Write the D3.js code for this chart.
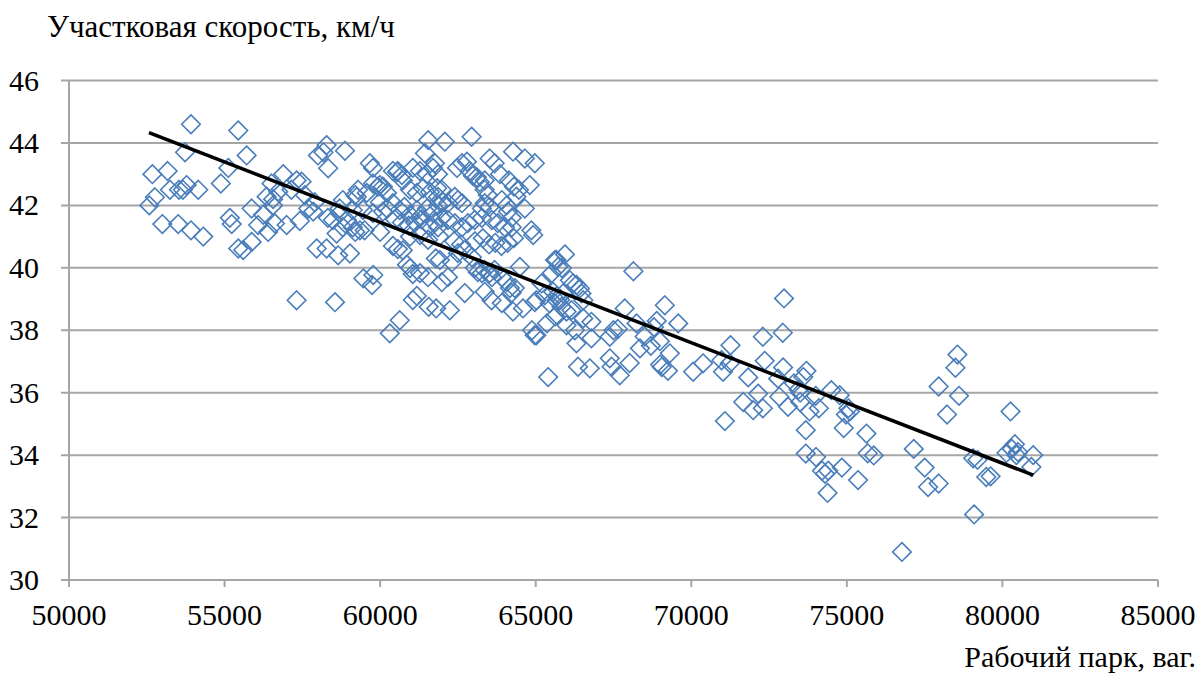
<!DOCTYPE html>
<html><head><meta charset="utf-8">
<script src="https://cdn.jsdelivr.net/npm/d3@7"></script>
<style>
html,body{margin:0;padding:0;background:#fff;}
</style></head>
<body>
<svg id="chart" width="1200" height="681"></svg>
<script>
// ---- data ----
const xTicks = [50000, 55000, 60000, 65000, 70000, 75000, 80000, 85000];
const yTicks = [30, 32, 34, 36, 38, 40, 42, 44, 46];
const titleY = "Участковая скорость, км/ч";
const titleX = "Рабочий парк, ваг.";

// left cluster
const parkA = [52680,53170,53920,53730,54880,53245,53535,53780,53660,54155,52760,52580,53000,53510,53920,54315,
  55440,55710,55120,55170,55230,56886,56510,57475,56725,57580,56350,56560,57900,55870,56240,56560,57690,57420,57850,
  56080,56620,56995,56400,55870,55440,55600,57960,57315,57150,57315];
const speedA = [43.0,43.1,44.6,43.7,42.7,42.5,42.5,42.65,42.5,42.5,42.26,42.0,41.4,41.4,41.2,41.0,
  44.4,43.6,43.2,41.6,41.4,43.0,42.7,42.76,42.44,42.33,42.28,42.2,42.1,41.9,41.7,42.0,41.9,41.5,41.8,
  41.37,41.42,41.37,41.15,40.83,40.62,40.57,40.62,38.96,42.5,42.8];

// central cluster 58000–62000
const parkB = [58000,58180,58280,58870,58330,61545,61440,59670,59770,60410,60570,59990,59290,59200,58800,58700,
  58550,60630,60310,59460,59780,59740,58650,59030,58280,58600,59200,59500,60000,60410,60570,60730,60960,61280,61540,
  60860,60960,61050,61280,61540,61180,61050,61560,61790,61800,
  60540,60700,60730,59770,59930,60090,60220,60220,60410,60630,60780,60960,61180,61310,61510,61700,61860,
  60480,60700,60920,61120,61330,61560,61760,59250,59570,59990,59120,59450,59770,60090,
  58700,58930,58480,58320,58800,59120,59350,60960,61180,61380,61600,61830,61050,61280,61500,61700,61860];
const speedB = [43.6,43.7,43.93,43.75,43.19,44.09,43.67,43.35,43.2,43.1,43.1,42.65,42.5,42.33,42.17,41.9,
  38.9,38.32,37.9,39.66,39.77,39.45,40.4,40.46,40.62,41.1,41.15,41.2,41.15,40.7,40.6,40.56,41.0,41.05,40.9,
  40.1,39.99,39.8,39.83,39.7,39.1,38.97,38.75,40.3,38.7,
  43.07,42.97,42.8,42.7,42.6,42.6,42.4,41.9,42.07,41.85,41.95,41.7,41.85,41.65,41.9,41.75,42.0,
  41.55,41.45,41.35,41.45,41.55,41.35,41.45,42.27,42.4,42.1,41.85,41.85,41.75,41.8,
  41.75,41.53,41.53,41.6,41.3,41.3,41.2,42.5,42.4,42.55,42.43,42.55,43.2,43.1,43.0,43.2,43.0];

// central cluster 62000–66600
const parkC = [62940,62080,64270,64650,64970,63520,63680,61760,62470,62630,62790,62880,62980,63110,63200,63360,
  63850,64140,64300,64460,64810,64380,64650,64860,63360,63460,63360,63520,63270,
  62400,62500,62630,61980,61860,62020,62180,63910,64070,64110,64230,
  63040,63270,63590,63780,64010,64230,61980,62180,62400,62630,62820,61860,
  61900,62380,62600,63050,63300,63500,63700,63900,64100,64300,61920,62310,62500,62720,62950,
  63040,63140,63270,63360,63520,63590,63680,63910,64070,64170,64330,64230,63360,62720,62240,
  64490,63580,61980,62180,63910,64590,64970,64880,64970,65360,65620,65720,65520,65680,65780,65190,
  64270,65400,64920,65940,65670,65840,68140,65020,65290,65560,65450,65670,65830,65990,66150,65880,
  66100,66200,66310,66420,66470,66530,65620,65990,66530];
const speedC = [44.2,44.04,43.72,43.5,43.35,43.5,43.35,43.35,43.2,43.35,43.4,43.1,42.95,42.9,42.75,42.8,
  43.0,42.8,42.6,42.5,42.65,42.28,41.9,41.2,42.5,42.33,42.07,41.95,41.9,
  42.27,42.17,42.07,42.5,42.27,42.1,42.07,42.17,42.0,41.8,41.6,
  41.53,41.6,41.53,41.43,41.3,41.3,41.6,41.53,41.43,41.3,41.43,41.3,
  41.0,40.85,40.75,40.85,40.95,40.75,40.8,40.7,40.8,40.95,40.25,40.18,40.47,40.56,40.34,
  40.0,39.86,39.83,39.93,39.83,39.7,39.93,39.7,39.54,39.35,39.35,39.2,39.23,39.19,38.64,
  40.03,38.96,39.54,39.7,38.87,38.7,38.9,38.0,37.84,38.22,40.25,40.03,39.83,39.1,38.97,39.5,
  38.6,36.5,41.05,40.43,40.25,39.99,39.89,38.96,39.12,39.23,38.86,38.96,38.75,38.6,38.64,39.18,
  39.6,39.5,39.45,39.34,39.18,38.96,38.45,38.16,38.38];

// 66000–71000
const parkD = [65020,66310,66790,66790,66260,66360,66740,67380,67640,67860,67380,67440,67700,68020,68240,68350,
  68700,68890,69150,69580,68990,69310,69050,70060,70380,67500,68500,68800,69000,69250];
const speedD = [37.84,37.58,37.74,38.27,38.0,36.83,36.78,37.79,38.04,38.7,37.1,36.83,36.56,36.95,38.22,37.42,
  37.5,38.3,38.8,38.22,37.65,37.26,36.82,36.67,36.94,38.0,37.8,38.1,36.9,36.7];

// 70000–76000
const parkE = [72980,72300,72940,71260,70970,71240,71020,72360,71830,72950,72790,73300,73450,73600,73700,73500,
  72150,71670,71990,72300,72830,73110,73500,73800,74000,74100,74500,74770,74970,71080,73680,74900,75630,
  73680,74010,74200,74300,74400,74840,75360,74380,75670,75050,75100];
const speedE = [39.02,37.79,37.92,37.52,37.04,36.94,36.67,37.02,36.49,36.81,36.45,36.3,36.1,36.5,36.7,36.0,
  35.97,35.7,35.44,35.5,35.87,35.55,35.7,35.4,35.9,35.5,36.08,35.92,35.3,35.09,34.8,34.87,34.69,
  34.05,33.94,33.5,33.4,33.5,33.6,33.2,32.79,34.06,35.5,35.4];

// 75000–81000
const parkF = [78554,78490,77950,78605,78220,80260,75865,77150,77500,77610,77950,79060,79200,79480,79620,79090,
  76770,80130,80300,80400,80500,80450,80990,80930];
const speedF = [37.22,36.8,36.2,35.9,35.3,35.4,33.99,34.2,33.6,32.98,33.09,33.9,33.85,33.3,33.32,32.1,
  30.9,34.07,34.2,34.35,34.1,34.0,34.0,33.62];

// linear trend endpoints
const trendPark = [52570, 80990];
const trendSpeed = [44.33, 33.36];

// ---- build points ----
const park = [].concat(parkA, parkB, parkC, parkD, parkE, parkF);
const speed = [].concat(speedA, speedB, speedC, speedD, speedE, speedF);
const points = park.map((p, i) => ({x: p, y: speed[i]}));

// ---- layout ----
const svg = d3.select("#chart");
const L = 69, R = 1158, T = 80.5, B = 580;
const x = d3.scaleLinear().domain([50000, 85000]).range([L, R]);
const y = d3.scaleLinear().domain([30, 46]).range([B, T]);
const gridCol = "#a6a6a6";
const fs = 30;
const ff = '"Liberation Serif", "Times New Roman", serif';

// gridlines
svg.append("g").selectAll("line").data(yTicks).join("line")
  .attr("x1", L - 8).attr("x2", R)
  .attr("y1", d => y(d)).attr("y2", d => y(d))
  .attr("stroke", gridCol).attr("stroke-width", 2);

// left axis line
svg.append("line").attr("x1", L).attr("x2", L).attr("y1", T).attr("y2", B)
  .attr("stroke", gridCol).attr("stroke-width", 2);

// x ticks
svg.append("g").selectAll("line").data(xTicks).join("line")
  .attr("x1", d => x(d)).attr("x2", d => x(d))
  .attr("y1", B).attr("y2", B + 7)
  .attr("stroke", gridCol).attr("stroke-width", 2);

// y tick labels
svg.append("g").selectAll("text").data(yTicks).join("text")
  .attr("x", 39).attr("y", d => y(d) + 10)
  .attr("text-anchor", "end").attr("font-size", fs).style("font-family", ff).attr("fill", "#000")
  .text(d => d);

// x tick labels
svg.append("g").selectAll("text").data(xTicks).join("text")
  .attr("x", d => x(d)).attr("y", 625)
  .attr("text-anchor", "middle").attr("font-size", fs).style("font-family", ff).attr("fill", "#000")
  .text(d => d);

// axis titles
svg.append("text").attr("x", 47).attr("y", 37).attr("font-size", 31).style("font-family", ff)
  .attr("fill", "#000").text(titleY);
svg.append("text").attr("x", 1196).attr("y", 667).attr("text-anchor", "end")
  .attr("font-size", fs).style("font-family", ff).attr("fill", "#000").text(titleX);

// markers
const h = 9.3;
svg.append("g").selectAll("path").data(points).join("path")
  .attr("d", d => {
    const cx = x(d.x), cy = y(d.y);
    return `M${cx},${cy - h}L${cx + h},${cy}L${cx},${cy + h}L${cx - h},${cy}Z`;
  })
  .attr("fill", "none").attr("stroke", "#4a7ebb").attr("stroke-width", 1.6);

// trend line
svg.append("line")
  .attr("x1", x(trendPark[0])).attr("y1", y(trendSpeed[0]))
  .attr("x2", x(trendPark[1])).attr("y2", y(trendSpeed[1]))
  .attr("stroke", "#000").attr("stroke-width", 3.6);
</script>
</body></html>
